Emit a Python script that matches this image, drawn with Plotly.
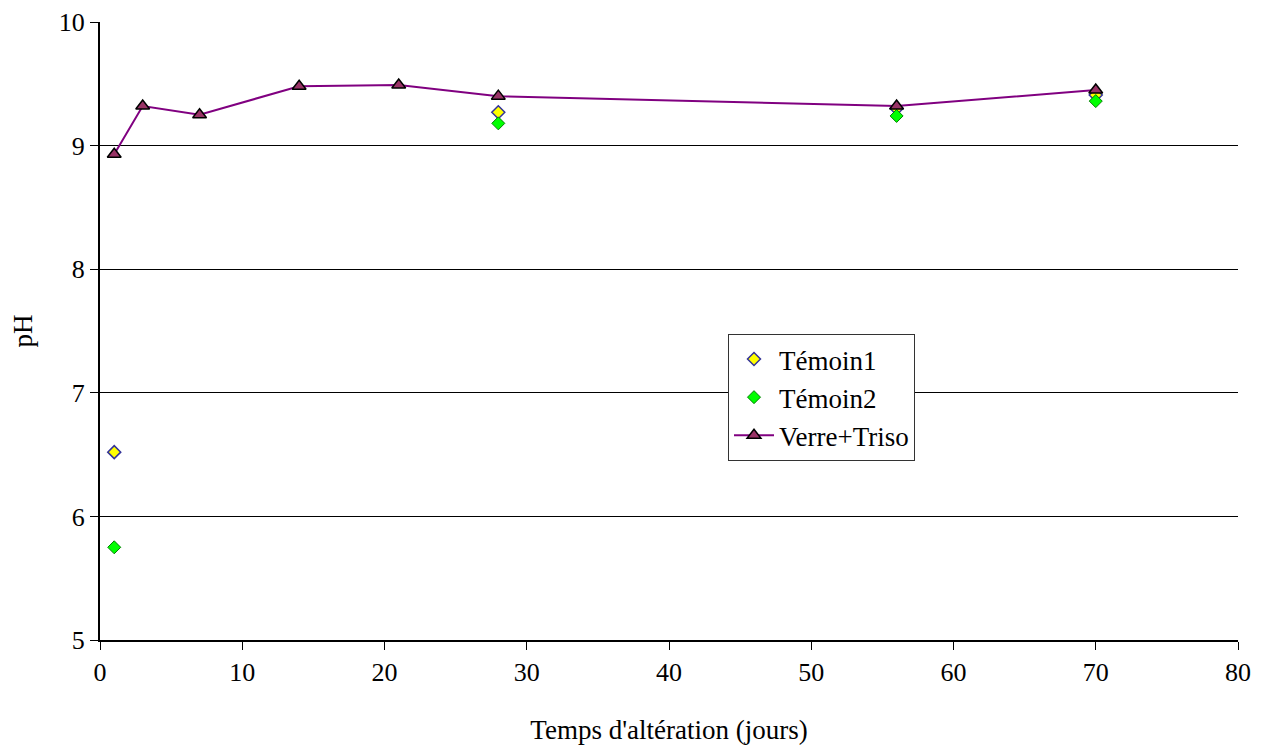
import plotly.graph_objects as go

days_verre = [1, 3, 7, 14, 21, 28, 56, 70]
ph_verre = [8.93, 9.32, 9.25, 9.48, 9.49, 9.40, 9.32, 9.45]
days_temoin = [1, 28, 56, 70]
ph_temoin1 = [6.52, 9.27, 9.30, 9.41]
ph_temoin2 = [5.75, 9.18, 9.24, 9.36]

FAM = "Liberation Serif"

fig = go.Figure()
fig.add_trace(go.Scatter(x=days_temoin, y=ph_temoin1, mode="markers", name="Témoin1",
                         marker=dict(symbol="diamond", size=10, color="#FFFF00",
                                     line=dict(color="#333399", width=1.5))))
fig.add_trace(go.Scatter(x=days_temoin, y=ph_temoin2, mode="markers", name="Témoin2",
                         marker=dict(symbol="diamond", size=10, color="#00FF00",
                                     line=dict(color="#008000", width=1))))
fig.add_trace(go.Scatter(x=days_verre, y=ph_verre, mode="lines+markers", name="Verre+Triso",
                         line=dict(color="#800080", width=2),
                         marker=dict(symbol="triangle-up", size=12, color="#993366",
                                     line=dict(color="black", width=1.5))))

# page body has an 8px margin; compensate so the plot area lands where the reference has it
fig.update_layout(
    width=1256, height=737,
    margin=dict(l=92, r=26, t=14, b=105, autoexpand=False),
    paper_bgcolor="white", plot_bgcolor="white",
    font=dict(family=FAM, size=26, color="black"),
    showlegend=True,
    legend=dict(x=(728-100)/1138, y=(640-334)/618, xanchor="left", yanchor="top",
                bordercolor="#333333", borderwidth=1, bgcolor="white",
                font=dict(family=FAM, size=27), tracegroupgap=0, itemwidth=40),
)
fig.update_xaxes(range=[0, 80], dtick=10, showgrid=False, showline=True, linecolor="black",
                 linewidth=2, ticks="outside", ticklen=8, tickcolor="black",
                 tickfont=dict(family=FAM, size=26),
                 title=dict(text="Temps d'altération (jours)", standoff=36,
                            font=dict(family=FAM, size=27)),
                 zeroline=False, automargin=False)
fig.update_yaxes(range=[5, 10], dtick=1, showgrid=True, gridcolor="black", gridwidth=1,
                 showline=True, linecolor="black", linewidth=2, ticks="outside", ticklen=8,
                 tickcolor="black", tickfont=dict(family=FAM, size=26),
                 title=dict(text="pH", standoff=24, font=dict(family=FAM, size=27)),
                 zeroline=False, automargin=False)

fig.write_html("out.html")
